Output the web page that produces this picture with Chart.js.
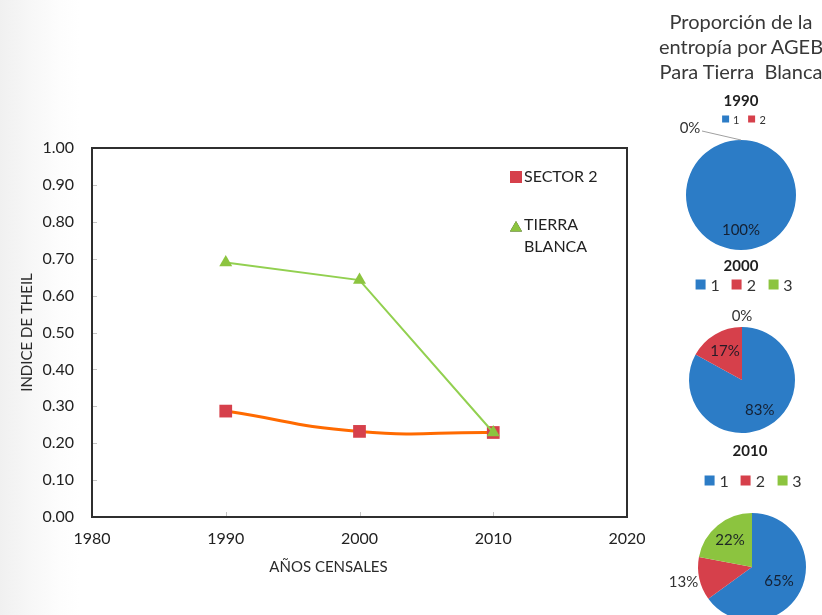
<!DOCTYPE html>
<html>
<head>
<meta charset="utf-8">
<script src="https://cdn.jsdelivr.net/npm/chart.js@4/dist/chart.umd.min.js"></script>
<style>
  html, body {
    margin: 0; padding: 0; width: 822px; height: 615px; overflow: hidden;
    background: linear-gradient(to right, #f0f0f0 0px, #f7f7f7 30px, #fdfdfd 60px, #ffffff 80px);
    font-family: Lato, "Open Sans", sans-serif; color: #333;
  }
  #main { position: absolute; left: 0; top: 0; }
  .pie { position: absolute; }
  .title {
    position: absolute; left: 641px; width: 200px; top: 9px; text-align: center;
    font-size: 20px; line-height: 25px; color: #383838; white-space: pre;
  }
  .ptitle {
    position: absolute; width: 80px; text-align: center; font-weight: bold;
    font-size: 15px; line-height: 18px; color: #1e1e1e; transform: translateX(-50%);
  }
  .plegend {
    position: absolute; display: flex; align-items: center; white-space: nowrap;
    transform: translate(-50%, -50%); color: #333;
  }
  .plegend span.box { display: inline-block; }
</style>
</head>
<body>
<canvas id="main" width="650" height="615"></canvas>

<div class="title" id="pieTitle"></div>

<canvas class="pie" id="p1990" width="170" height="150" style="left:656px; top:120px;"></canvas>
<canvas class="pie" id="p2000" width="170" height="150" style="left:657px; top:305px;"></canvas>
<canvas class="pie" id="p2010" width="170" height="150" style="left:667px; top:492px;"></canvas>

<script>
// Theil index by census year
const years = [1990, 2000, 2010];
const sector2 = [0.287, 0.232, 0.229];
const tierraBlanca = [0.690, 0.642, 0.229];
const seriesNames = ['SECTOR 2', 'TIERRA BLANCA'];
const xTickLabels = ['1980', '1990', '2000', '2010', '2020'];
const yTickLabels = ['0.00', '0.10', '0.20', '0.30', '0.40', '0.50', '0.60', '0.70', '0.80', '0.90', '1.00'];
const yAxisTitle = 'INDICE DE THEIL';
const xAxisTitle = 'AÑOS CENSALES';

// Share of entropy by AGEB, per census year (percent)
const pieTitleText = 'Proporción de la\nentropía por AGEB\nPara Tierra  Blanca';
const pieYears = ['1990', '2000', '2010'];
const agebLabels1990 = ['1', '2'];
const agebLabels = ['1', '2', '3'];
const share1990 = [100, 0];
const share2000 = [83, 17, 0];
const share2010 = [65, 13, 22];

const BLUE = '#2c7cc6', RED = '#d6404b', GREEN = '#8cc43f';
const sliceColors = [BLUE, RED, GREEN];

Chart.defaults.font.family = 'Lato, "Open Sans", sans-serif';
Chart.defaults.color = '#333';

// ---------- line chart ----------
const plotFrame = {
  id: 'plotFrame',
  afterDatasetsDraw(chart) {
    const { ctx, chartArea: a, scales } = chart;
    ctx.save();
    // inner tick marks
    ctx.strokeStyle = '#c4c4c4';
    ctx.lineWidth = 1;
    ctx.beginPath();
    scales.y.ticks.forEach(t => {
      const py = Math.round(scales.y.getPixelForValue(t.value)) + 0.5;
      ctx.moveTo(a.left, py); ctx.lineTo(a.left + 5, py);
    });
    scales.x.ticks.forEach(t => {
      const px = Math.round(scales.x.getPixelForValue(t.value)) + 0.5;
      ctx.moveTo(px, a.bottom); ctx.lineTo(px, a.bottom - 5);
    });
    ctx.stroke();
    // frame
    ctx.strokeStyle = '#2f2f2f';
    ctx.lineWidth = 2;
    ctx.strokeRect(a.left, a.top, a.right - a.left, a.bottom - a.top);

    // axis titles
    ctx.fillStyle = '#2a2a2a';
    ctx.font = '15px Lato, "Open Sans", sans-serif';
    ctx.textAlign = 'center';
    ctx.textBaseline = 'middle';
    ctx.fillText(xAxisTitle, (a.left + a.right) / 2 - 31, a.bottom + 50);
    ctx.save();
    ctx.translate(27, (a.top + a.bottom) / 2);
    ctx.rotate(-Math.PI / 2);
    ctx.fillText(yAxisTitle, 0, 0);
    ctx.restore();

    // legend inside the plot area
    const lx = a.right - 111;
    const ly = a.top + 29;
    const items = [
      { ds: chart.data.datasets[0], lines: [seriesNames[0]], y: ly },
      { ds: chart.data.datasets[1], lines: ['TIERRA', 'BLANCA'], y: ly + 51 }
    ];
    ctx.font = '16px Lato, "Open Sans", sans-serif';
    ctx.textAlign = 'left';
    items.forEach(it => {
      Chart.helpers.drawPoint(ctx, {
        pointStyle: it.ds.pointStyle, radius: it.ds.pointStyle === 'rect' ? 8.5 : 7, rotation: 0, borderWidth: 0
      }, lx, it.y);
      ctx.fillStyle = it.ds.pointBackgroundColor;
      ctx.fill();
      ctx.fillStyle = '#222';
      it.lines.forEach((s, k) => ctx.fillText(s, lx + 8, it.y - (it.lines.length > 1 ? 3 : 0) + k * 22));
    });
    ctx.restore();
  }
};

new Chart(document.getElementById('main'), {
  type: 'line',
  data: {
    datasets: [
      {
        label: seriesNames[0],
        data: years.map((x, i) => ({ x, y: sector2[i] })),
        borderColor: '#ff6a00',
        borderWidth: 3,
        tension: 0.5,
        pointStyle: 'rect',
        pointRadius: 9,
        pointBackgroundColor: RED,
        pointBorderColor: RED,
        pointBorderWidth: 0,
        order: 1
      },
      {
        label: seriesNames[1],
        data: years.map((x, i) => ({ x, y: tierraBlanca[i] })),
        borderColor: '#92d050',
        borderWidth: 2,
        tension: 0,
        pointStyle: 'triangle',
        pointRadius: 7.5,
        pointBackgroundColor: GREEN,
        pointBorderColor: GREEN,
        pointBorderWidth: 0,
        order: 0
      }
    ]
  },
  options: {
    responsive: false,
    animation: false,
    events: [],
    devicePixelRatio: 1,
    layout: { padding: { left: 0, top: 148, right: 23, bottom: 28 } },
    plugins: { legend: { display: false }, tooltip: { enabled: false } },
    scales: {
      x: {
        type: 'linear', min: 1980, max: 2020,
        afterFit: s => { s.height = 70; s.paddingLeft = 0; s.paddingRight = 0; },
        grid: { display: false, drawTicks: false },
        border: { display: false },
        ticks: {
          stepSize: 10, padding: 12, color: '#222',
          font: { size: 16 },
          callback: (v) => xTickLabels[Math.round((v - 1980) / 10)]
        }
      },
      y: {
        min: 0, max: 1,
        afterFit: s => { s.width = 92; s.paddingTop = 0; s.paddingBottom = 0; },
        grid: { display: false, drawTicks: false },
        border: { display: false },
        ticks: {
          stepSize: 0.1, padding: 18, color: '#222',
          font: { size: 16 },
          callback: (v) => yTickLabels[Math.round(v * 10)]
        }
      }
    }
  },
  plugins: [plotFrame]
});

// ---------- pies ----------
document.getElementById('pieTitle').textContent = pieTitleText;

const sliceLabels = {
  id: 'sliceLabels',
  afterDatasetsDraw(chart, args, opts) {
    const { ctx } = chart;
    const meta = chart.getDatasetMeta(0);
    const values = chart.data.datasets[0].data;
    ctx.save();
    ctx.font = '15px Lato, "Open Sans", sans-serif';
    ctx.textAlign = 'center';
    ctx.textBaseline = 'middle';
    meta.data.forEach((arc, i) => {
      const p = opts.place[i];
      const { x, y, startAngle, endAngle, outerRadius } =
        arc.getProps(['x', 'y', 'startAngle', 'endAngle', 'outerRadius'], true);
      const mid = (startAngle + endAngle) / 2;
      const px = x + Math.cos(mid) * outerRadius * p.f + (p.dx || 0);
      const py = y + Math.sin(mid) * outerRadius * p.f + (p.dy || 0);
      if (p.leader) {
        ctx.strokeStyle = '#a0a0a0';
        ctx.lineWidth = 1;
        ctx.beginPath();
        ctx.moveTo(px + 12, py + 3);
        ctx.lineTo(x + Math.cos(mid) * outerRadius, y + Math.sin(mid) * outerRadius);
        ctx.stroke();
      }
      ctx.fillStyle = p.outside ? '#333' : 'rgba(18,22,34,0.9)';
      ctx.fillText(values[i] + '%', px, py);
    });
    ctx.restore();
  }
};

function makePie(id, labels, values, pad, place) {
  new Chart(document.getElementById(id), {
    type: 'pie',
    data: {
      labels,
      datasets: [{ data: values, backgroundColor: sliceColors.slice(0, values.length), borderWidth: 0 }]
    },
    options: {
      responsive: false, animation: false, events: [], devicePixelRatio: 1,
      layout: { padding: pad },
      plugins: {
        legend: { display: false }, tooltip: { enabled: false },
        sliceLabels: { place }
      }
    },
    plugins: [sliceLabels]
  });
}

makePie('p1990', agebLabels1990, share1990,
  { left: 30, right: 30, top: 20, bottom: 20 },
  [{ f: 0.64 }, { f: 1, dx: -51, dy: -12, leader: true, outside: true }]);
makePie('p2000', agebLabels, share2000,
  { left: 32, right: 32, top: 22, bottom: 22 },
  [{ f: 0.66 }, { f: 0.63 }, { f: 1.21, outside: true }]);
makePie('p2010', agebLabels, share2010,
  { left: 31, right: 31, top: 21, bottom: 21 },
  [{ f: 0.56 }, { f: 1.3, outside: true }, { f: 0.64 }]);

// per-year titles and legends
const pieHeads = [
  { year: pieYears[0], labels: agebLabels1990, cx: 741, ty: 91, ly: 119, fs: 11, box: 7, gap: 4, sep: 9 },
  { year: pieYears[1], labels: agebLabels, cx: 741, ty: 256, ly: 284, fs: 16, box: 10, gap: 5, sep: 12 },
  { year: pieYears[2], labels: agebLabels, cx: 750, ty: 441, ly: 480, fs: 16, box: 10, gap: 5, sep: 12 }
];
pieHeads.forEach(h => {
  const t = document.createElement('div');
  t.className = 'ptitle';
  t.style.left = h.cx + 'px';
  t.style.top = h.ty + 'px';
  t.textContent = h.year;
  document.body.appendChild(t);

  const lg = document.createElement('div');
  lg.className = 'plegend';
  lg.style.left = (h.cx + 3) + 'px';
  lg.style.top = h.ly + 'px';
  lg.style.fontSize = h.fs + 'px';
  h.labels.forEach((lab, i) => {
    const b = document.createElement('span');
    b.className = 'box';
    b.style.width = b.style.height = h.box + 'px';
    b.style.background = sliceColors[i];
    b.style.marginRight = h.gap + 'px';
    if (i > 0) b.style.marginLeft = h.sep + 'px';
    const s = document.createElement('span');
    s.textContent = lab;
    lg.appendChild(b);
    lg.appendChild(s);
  });
  document.body.appendChild(lg);
});
</script>
</body>
</html>
